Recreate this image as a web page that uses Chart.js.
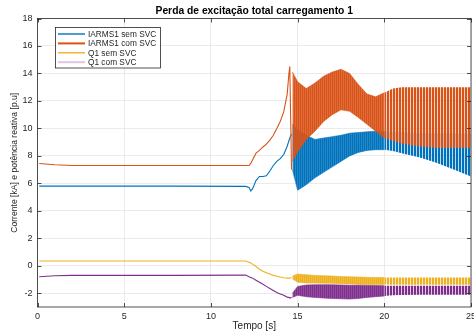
<!DOCTYPE html>
<html>
<head>
<meta charset="utf-8">
<script src="https://cdn.jsdelivr.net/npm/chart.js@4"></script>
<style>
  html, body { margin: 0; padding: 0; background: #fff; overflow: hidden; }
  #wrap { width: 474px; height: 334px; overflow: hidden; }
</style>
</head>
<body>
<div id="wrap"><canvas id="chart" width="490" height="334"></canvas></div>
<script>
// chart text
const titleText = 'Perda de excitação total carregamento 1';
const xTitle = 'Tempo [s]';
const yTitle = 'Corrente [kA] e potência reativa [p.u]';
const names = ['IARMS1 sem SVC', 'IARMS1 com SVC', 'Q1 sem SVC', 'Q1 com SVC'];

// tick labels
const xTicks = [0, 5, 10, 15, 20, 25];
const yTicks = [-2, 0, 2, 4, 6, 8, 10, 12, 14, 16, 18];

// before the oscillation: time [s] and values
const tPre = [0.1, 1, 2, 5, 8, 12.0, 12.2, 12.3, 12.4, 12.6, 12.8, 13.0, 13.2, 13.4, 13.6, 13.8, 14.0, 14.2, 14.4, 14.5, 14.55, 14.65];
const iSemPre = [5.8, 5.8, 5.8, 5.8, 5.8, 5.78, 5.7, 5.45, 5.6, 6.2, 6.5, 6.5, 6.55, 6.9, 7.3, 7.6, 7.8, 8.1, 8.7, 9.1, 9.3, 9.6];
const iComPre = [7.45, 7.35, 7.3, 7.3, 7.3, 7.3, 7.3, 7.45, 7.7, 8.2, 8.4, 8.65, 8.85, 9.15, 9.5, 10.0, 10.5, 11.2, 12.5, 14.0, 14.5, 7.0];
const qSemPre = [0.35, 0.35, 0.35, 0.35, 0.35, 0.35, 0.25, 0.2, 0.12, -0.05, -0.25, -0.4, -0.5, -0.6, -0.7, -0.76, -0.82, -0.87, -0.9, -0.9, -0.9, -0.85];
const qComPre = [-0.8, -0.72, -0.7, -0.7, -0.7, -0.68, -0.8, -0.85, -0.9, -1.05, -1.2, -1.35, -1.5, -1.65, -1.8, -1.95, -2.05, -2.15, -2.28, -2.3, -2.35, -2.3];

// oscillation envelope (upper / lower) after the fault
const tBand = [14.7, 15, 15.5, 16, 16.5, 17, 17.5, 18, 18.5, 19, 19.5, 20, 20.5, 21, 22, 23, 24, 25];
const iSemHi = [10.3, 9.9, 9.5, 9.2, 9.3, 9.4, 9.5, 9.65, 9.7, 9.75, 9.8, 9.8, 9.75, 9.7, 9.65, 9.65, 9.65, 9.6];
const iSemLo = [7.0, 5.5, 5.9, 6.4, 6.8, 7.2, 7.6, 8.0, 8.25, 8.4, 8.45, 8.45, 8.35, 8.2, 7.9, 7.5, 7.0, 6.5];
const iComHi = [14.1, 13.4, 12.9, 13.3, 13.8, 14.1, 14.3, 14.0, 13.2, 12.5, 12.3, 12.6, 12.9, 13.0, 13.0, 13.0, 13.0, 13.0];
const iComLo = [7.6, 8.3, 9.2, 9.8, 10.5, 11.0, 11.35, 11.25, 10.8, 10.3, 9.8, 9.3, 9.1, 8.9, 8.7, 8.6, 8.6, 8.6];
const qSemHi = [-0.75, -0.6, -0.65, -0.7, -0.72, -0.75, -0.78, -0.8, -0.82, -0.84, -0.85, -0.85, -0.86, -0.86, -0.86, -0.86, -0.85, -0.85];
const qSemLo = [-0.95, -1.2, -1.25, -1.25, -1.27, -1.28, -1.3, -1.32, -1.35, -1.36, -1.37, -1.37, -1.38, -1.38, -1.38, -1.38, -1.38, -1.38];
const qComHi = [-2.0, -1.5, -1.4, -1.38, -1.38, -1.38, -1.4, -1.42, -1.42, -1.43, -1.44, -1.45, -1.45, -1.45, -1.45, -1.45, -1.45, -1.45];
const qComLo = [-2.3, -2.15, -2.25, -2.3, -2.35, -2.38, -2.4, -2.42, -2.38, -2.3, -2.25, -2.2, -2.15, -2.12, -2.1, -2.1, -2.1, -2.1];

const colors = ['#0072BD', '#D95319', '#EDB120', '#7E2F8E'];
const legendColors = ['#0072BD', '#D95319', '#EDB120', '#dcc6e3'];
const FONT = '"Liberation Sans", Arial, sans-serif';

const canvas = document.getElementById('chart');
const mainCtx = canvas.getContext('2d');

// vertical stripes to look like the fast oscillation
function stripes(color, period, solid, alpha) {
    const c = document.createElement('canvas');
    c.width = period; c.height = 1;
    const g = c.getContext('2d');
    g.fillStyle = color;
    g.globalAlpha = alpha;
    g.fillRect(0, 0, period, 1);
    g.globalAlpha = 1;
    g.fillRect(0, 0, solid, 1);
    return mainCtx.createPattern(c, 'repeat');
}

function pts(xs, ys) {
    return xs.map((x, i) => ({ x: x, y: ys[i] }));
}

const series = [
    { pre: iSemPre, hi: iSemHi, lo: iSemLo },
    { pre: iComPre, hi: iComHi, lo: iComLo },
    { pre: qSemPre, hi: qSemHi, lo: qSemLo },
    { pre: qComPre, hi: qComHi, lo: qComLo }
];

const k = tBand.indexOf(20);
const datasets = [];
series.forEach((s, i) => {
    const order = 4 - i; // later series drawn on top
    const band = pts(tBand, s.hi), bandLo = pts(tBand, s.lo);
    datasets.push({
        label: names[i], data: pts(tPre, s.pre), borderColor: colors[i],
        borderWidth: 1.1, pointRadius: 0, fill: false, order: order
    });
    // dense part (until 20 s)
    datasets.push({
        label: names[i] + ' max A', data: band.slice(0, k + 1), borderColor: colors[i],
        backgroundColor: stripes(colors[i], 2, 1, 0.85), borderWidth: 0.6, pointRadius: 0, fill: '+1', order: order
    });
    datasets.push({
        label: names[i] + ' min A', data: bandLo.slice(0, k + 1), borderColor: colors[i],
        borderWidth: 0.6, pointRadius: 0, fill: false, order: order
    });
    // sparse part (after 20 s)
    datasets.push({
        label: names[i] + ' max B', data: band.slice(k), borderColor: colors[i],
        backgroundColor: stripes(colors[i], 3, 2, 0.25), borderWidth: 0, pointRadius: 0, fill: '+1', order: order
    });
    datasets.push({
        label: names[i] + ' min B', data: bandLo.slice(k), borderColor: colors[i],
        borderWidth: 0, pointRadius: 0, fill: false, order: order
    });
});

const framePlugin = {
    id: 'frame',
    afterDraw(chart) {
        const ctx = chart.ctx;
        const a = chart.chartArea;
        const sx = chart.scales.x, sy = chart.scales.y;
        ctx.save();
        ctx.strokeStyle = '#262626';
        ctx.lineWidth = 0.8;
        ctx.strokeRect(a.left, a.top, a.right - a.left, a.bottom - a.top);
        ctx.beginPath();
        xTicks.forEach(v => {
            const px = Math.round(sx.getPixelForValue(v)) + 0.5;
            ctx.moveTo(px, a.bottom); ctx.lineTo(px, a.bottom - 4);
            ctx.moveTo(px, a.top); ctx.lineTo(px, a.top + 4);
        });
        yTicks.forEach(v => {
            const py = Math.round(sy.getPixelForValue(v)) + 0.5;
            ctx.moveTo(a.left, py); ctx.lineTo(a.left + 4, py);
            ctx.moveTo(a.right, py); ctx.lineTo(a.right - 4, py);
        });
        ctx.stroke();

        // title
        ctx.fillStyle = '#000';
        ctx.font = 'bold 10.3px ' + FONT;
        ctx.textAlign = 'center';
        ctx.textBaseline = 'middle';
        ctx.fillText(titleText, (a.left + a.right) / 2, 11.5);

        // legend
        const lx = 55.5, ly = 27.5, lw = 105, lh = 40.5;
        ctx.fillStyle = '#fff';
        ctx.fillRect(lx, ly, lw, lh);
        ctx.strokeStyle = '#262626';
        ctx.lineWidth = 0.8;
        ctx.strokeRect(lx, ly, lw, lh);
        ctx.font = '8.3px ' + FONT;
        ctx.textAlign = 'left';
        names.forEach((n, i) => {
            const ry = 34 + i * 9.4;
            ctx.strokeStyle = legendColors[i];
            ctx.lineWidth = i === 1 || i === 3 ? 2 : 1.4;
            ctx.beginPath();
            ctx.moveTo(58, ry); ctx.lineTo(85, ry);
            ctx.stroke();
            ctx.fillStyle = '#262626';
            ctx.fillText(n, 88, ry + 0.5);
        });
        ctx.restore();
    }
};

new Chart(canvas, {
    type: 'line',
    data: { datasets: datasets },
    options: {
        responsive: false,
        animation: false,
        layout: { padding: { left: 0, right: 19, top: 18.5, bottom: 0 } },
        plugins: {
            legend: { display: false },
            tooltip: { enabled: false }
        },
        scales: {
            x: {
                type: 'linear', min: 0, max: 25,
                afterBuildTicks: scale => { scale.ticks = xTicks.map(v => ({ value: v })); },
                afterFit: scale => { scale.height = 27; },
                grid: { color: '#e6e6e6', lineWidth: 0.8, drawTicks: false },
                border: { display: false },
                ticks: { color: '#262626', font: { size: 9, family: FONT }, padding: 4, maxRotation: 0 },
                title: { display: true, text: xTitle, color: '#262626', font: { size: 10, family: FONT }, padding: { top: 0, bottom: 1.5 } }
            },
            y: {
                type: 'linear', min: -3, max: 18,
                afterBuildTicks: scale => { scale.ticks = yTicks.map(v => ({ value: v })); },
                afterFit: scale => { scale.width = 37.5; },
                grid: { color: '#e6e6e6', lineWidth: 0.8, drawTicks: false },
                border: { display: false },
                ticks: { color: '#262626', font: { size: 9, family: FONT }, padding: 5 },
                title: { display: true, text: yTitle, color: '#262626', font: { size: 8.6, family: FONT }, padding: { top: 9.5, bottom: 0 } }
            }
        }
    },
    plugins: [framePlugin]
});
</script>
</body>
</html>
